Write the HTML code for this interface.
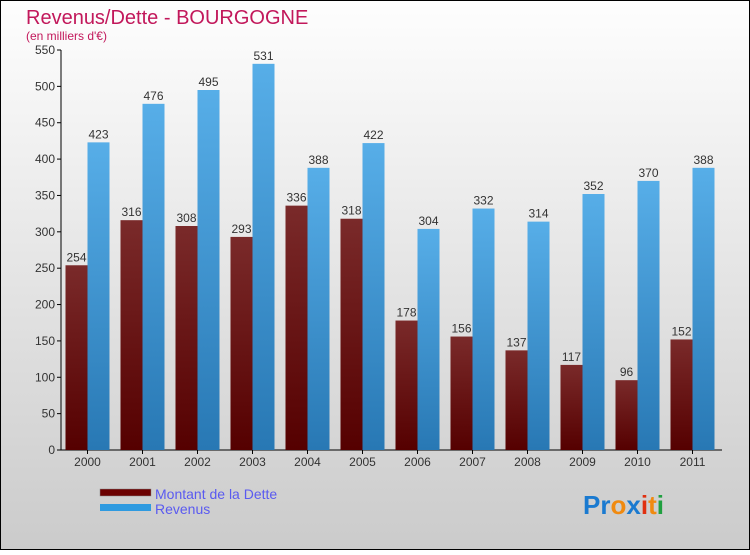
<!DOCTYPE html>
<html><head><meta charset="utf-8"><style>
html,body{margin:0;padding:0}
body{width:750px;height:550px;overflow:hidden;font-family:"Liberation Sans",sans-serif}
</style></head><body>
<svg width="750" height="550" xmlns="http://www.w3.org/2000/svg">
<defs>
<linearGradient id="bg" x1="0" y1="0" x2="0" y2="1"><stop offset="0" stop-color="#fefefe"/><stop offset="1" stop-color="#cbcbcb"/></linearGradient>
<linearGradient id="gd" x1="0" y1="0" x2="0" y2="1"><stop offset="0" stop-color="#7a2a2a"/><stop offset="1" stop-color="#550000"/></linearGradient>
<linearGradient id="gr" x1="0" y1="0" x2="0" y2="1"><stop offset="0" stop-color="#57aee8"/><stop offset="1" stop-color="#2878b4"/></linearGradient>
</defs>
<rect x="0.5" y="0.5" width="749" height="549" fill="url(#bg)" stroke="#000"/>
<text x="26" y="24" font-size="20" fill="#c2185b">Revenus/Dette - BOURGOGNE</text>
<text x="26" y="40" font-size="12" fill="#c2185b">(en milliers d'€)</text>
<g id="axes"></g>
<g id="bars"></g>
<g>
<rect x="100" y="489" width="51" height="7" fill="#6b0000" stroke="#888" stroke-width="0.5"/>
<text x="155" y="499" font-size="14" fill="#5a5af0">Montant de la Dette</text>
<rect x="100" y="504" width="51" height="7" fill="#2e9ae0"/>
<text x="155" y="514" font-size="14" fill="#5a5af0">Revenus</text>
</g>
<text x="583" y="514" font-size="26" font-weight="bold"><tspan fill="#1a7ad0">Pr</tspan><tspan fill="#f08a10">o</tspan><tspan fill="#1a7ad0">x</tspan><tspan fill="#e03010">i</tspan><tspan fill="#f08a10">t</tspan><tspan fill="#20a040">i</tspan></text>
</svg>
<script>
const years=["2000","2001","2002","2003","2004","2005","2006","2007","2008","2009","2010","2011"];
const dette=[254,316,308,293,336,318,178,156,137,117,96,152];
const revenus=[423,476,495,531,388,422,304,332,314,352,370,388];
const yTicks=[0,50,100,150,200,250,300,350,400,450,500,550];
const NS="http://www.w3.org/2000/svg";
const y0=450,yTop=50,yMax=550;
function ys(v){return y0-v*(y0-yTop)/yMax;}
function xc(i){return 87.5+55*i;}
function mk(tag,attrs,parent){const e=document.createElementNS(NS,tag);for(const k in attrs)e.setAttribute(k,attrs[k]);parent.appendChild(e);return e;}
const ax=document.getElementById('axes'),bg=document.getElementById('bars');
let l=mk('line',{x1:61,y1:yTop,x2:61,y2:y0,stroke:'#000'},ax);


l=mk('line',{x1:58,y1:y0,x2:722,y2:y0,stroke:'#000'},ax);


yTicks.forEach(t=>{
 const y=ys(t);
 mk('line',{x1:57,y1:y,x2:61,y2:y,stroke:'#000'},ax);
 const tx=mk('text',{x:55,y:y+4,'font-size':12,fill:'#333','text-anchor':'end'},ax);
 tx.textContent=t;
 
 
});
years.forEach((yr,i)=>{
 const c=xc(i);
 mk('line',{x1:c,y1:y0,x2:c,y2:y0+4,stroke:'#000'},ax);
 const tx=mk('text',{x:c,y:y0+16,'font-size':12,fill:'#333','text-anchor':'middle'},ax);
 tx.textContent=yr;
 
 
 const b1=mk('rect',{x:c-22,y:ys(dette[i]),width:22,height:y0-ys(dette[i]),fill:'url(#gd)'},bg);
 
 
 const b2=mk('rect',{x:c,y:ys(revenus[i]),width:22,height:y0-ys(revenus[i]),fill:'url(#gr)'},bg);
 
 
 const v1=mk('text',{x:c-11,y:ys(dette[i])-4,'font-size':12,fill:'#333','text-anchor':'middle'},bg);
 v1.textContent=dette[i];
 
 
 const v2=mk('text',{x:c+11,y:ys(revenus[i])-4,'font-size':12,fill:'#333','text-anchor':'middle'},bg);
 v2.textContent=revenus[i];
 
 
});
</script>
</body></html>
